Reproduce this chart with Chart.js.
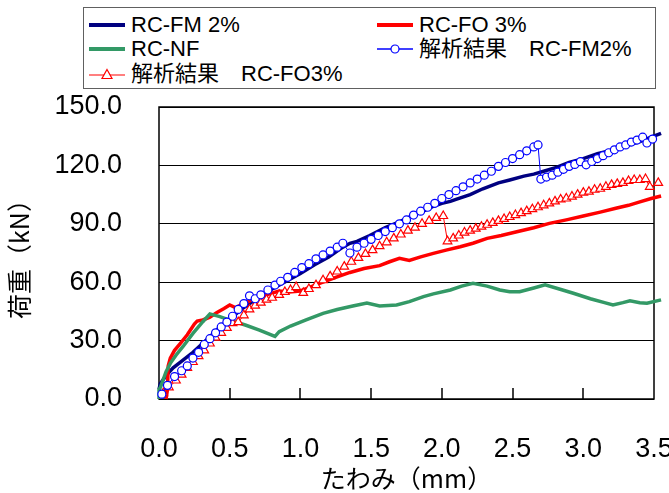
<!DOCTYPE html>
<html><head><meta charset="utf-8">
<script src="https://cdn.jsdelivr.net/npm/chart.js@4/dist/chart.umd.min.js"></script>
<style>
html,body{margin:0;padding:0;background:#fff;}
#wrap{position:relative;width:669px;height:493px;overflow:hidden;}
canvas{display:block;}
#legend{position:absolute;left:83px;top:7px;width:573px;height:82px;border:1px solid #606060;box-sizing:border-box;font-family:"Liberation Sans","Noto Sans CJK JP",sans-serif;font-size:22px;color:#000;background:#fff;}
.item{position:absolute;display:flex;align-items:center;white-space:nowrap;height:24px;line-height:24px;}
.item svg{margin-right:6px;flex:none;}
</style></head>
<body>
<div id="wrap">
<canvas id="c" width="669" height="493"></canvas>
<div id="legend">
  <div class="item" style="left:5px;top:5px"><svg width="36" height="10"><line x1="0" y1="5" x2="36" y2="5" stroke="#000080" stroke-width="4"/></svg>RC-FM 2%</div>
  <div class="item" style="left:293px;top:5px"><svg width="36" height="10"><line x1="0" y1="5" x2="36" y2="5" stroke="#FF0000" stroke-width="4"/></svg>RC-FO 3%</div>
  <div class="item" style="left:5px;top:29px"><svg width="36" height="10"><line x1="0" y1="5" x2="36" y2="5" stroke="#339966" stroke-width="4"/></svg>RC-NF</div>
  <div class="item" style="left:293px;top:29px"><svg width="36" height="12"><line x1="0" y1="6" x2="36" y2="6" stroke="#0000FF" stroke-width="1.5"/><circle cx="18" cy="6" r="4" fill="#fff" stroke="#0000FF" stroke-width="1.2"/></svg>解析結果　RC-FM2%</div>
  <div class="item" style="left:5px;top:54px"><svg width="36" height="12"><line x1="0" y1="7" x2="36" y2="7" stroke="#FF0000" stroke-width="1.2"/><polygon points="18,1.5 23,10.5 13,10.5" fill="#fff" stroke="#FF0000" stroke-width="1.2"/></svg>解析結果　RC-FO3%</div>
</div>
</div>
<script>
// tick values
const xTickValues = [0.0, 0.5, 1.0, 1.5, 2.0, 2.5, 3.0, 3.5];
const yTickValues = [0, 30, 60, 90, 120, 150];

// Measured RC-FM 2%
const fmX = [0.0,0.01,0.05,0.10,0.17,0.24,0.30,0.36,0.43,0.50,0.60,0.70,0.80,0.90,1.00,1.10,1.20,1.30,1.35,1.40,1.49,1.60,1.70,1.80,1.90,1.94,2.00,2.06,2.10,2.20,2.29,2.40,2.48,2.58,2.65,2.72,2.81,2.90,3.00,3.10,3.21,3.30,3.40,3.48,3.55];
const fmY = [5,8,12,16,20,24,28,32,37,41,47,52,56.5,60.5,64.5,69,73,78,80,81,84,88,91,94.5,97.5,99,100.5,101.5,102.5,105,108,111,112.5,114.5,115.5,117,119,121.5,123.5,126,128,130,132.2,134.5,136.5];

// Measured RC-FO 3%
const foX = [0.05,0.06,0.065,0.08,0.11,0.15,0.20,0.25,0.27,0.31,0.36,0.41,0.46,0.50,0.54,0.60,0.66,0.72,0.78,0.85,0.92,1.00,1.07,1.14,1.25,1.35,1.45,1.56,1.63,1.70,1.77,1.85,1.94,2.03,2.13,2.22,2.32,2.42,2.53,2.65,2.76,2.88,3.00,3.12,3.23,3.32,3.40,3.48,3.55];
const foY = [0,5,17,21,25,28.5,33,38.5,40,40.6,42,44.5,46.5,48.3,47,49,51,52,54,55.5,55,55.5,57.5,59.5,62.5,65,67,68.5,70.5,72.3,71.2,73,74.8,76.5,78.2,80,82.5,84,85.9,88,90.2,92,94,96,98,99.5,101.3,103,104.3];

// Measured RC-NF
const nfX = [0.0,0.0,0.01,0.05,0.08,0.12,0.17,0.24,0.31,0.36,0.43,0.50,0.61,0.71,0.82,0.85,0.93,1.04,1.16,1.26,1.37,1.47,1.56,1.68,1.77,1.87,1.94,2.06,2.14,2.22,2.32,2.41,2.48,2.55,2.65,2.73,2.83,2.93,3.05,3.15,3.21,3.28,3.33,3.40,3.45,3.55];
const nfY = [0,5,6,14,18.3,22.5,27,33.7,39.7,43.7,42.3,40.5,38,35.4,32.2,34.6,37.5,40.6,44,46,47.8,49.3,47.8,48.3,50,52.6,54,56,58,59.4,58,56,55.1,55.1,57,58.6,56.5,54.3,51.5,49.5,48.3,49.5,50.5,49.5,49.2,50.9];

// Analysis RC-FM2%
const anaFmX = [0.02,0.06,0.11,0.16,0.20,0.24,0.28,0.32,0.36,0.40,0.44,0.48,0.52,0.56,0.60,0.64,0.68,0.72,0.77,0.82,0.86,0.91,0.96,1.01,1.06,1.11,1.16,1.21,1.26,1.30,1.35,1.40,1.45,1.50,1.55,1.60,1.65,1.70,1.75,1.80,1.85,1.90,1.95,2.00,2.05,2.10,2.15,2.20,2.25,2.30,2.35,2.40,2.45,2.50,2.55,2.60,2.65,2.68,2.70,2.74,2.78,2.82,2.86,2.90,2.94,2.98,3.02,3.06,3.10,3.14,3.18,3.22,3.26,3.30,3.34,3.38,3.42,3.45,3.49];
const anaFmY = [2.5,7,11.5,14.5,17,21,24,28,31,34,37,39.5,42.5,46,49,53,51.5,53.5,56,58.5,60.5,62.5,65,67.5,69.5,72,74,76,78,80,75,78,80,82,84,86,88,90,92,94.5,96.5,98.5,100.5,103,105,107,109,111,113,115,117,119.5,121.5,123.5,125.5,127.5,129.5,130.5,113,114,115,116.5,118,119.5,120.5,121.9,120.3,122,123.5,125,126.5,128,129.5,130.5,132,133,134.5,131.5,133.5];

// Analysis RC-FO3%
const anaFoX = [0.03,0.07,0.12,0.16,0.20,0.24,0.28,0.32,0.36,0.40,0.44,0.48,0.52,0.56,0.60,0.64,0.68,0.72,0.76,0.80,0.85,0.89,0.93,0.97,1.02,1.06,1.11,1.16,1.21,1.26,1.31,1.36,1.41,1.46,1.51,1.56,1.61,1.66,1.71,1.76,1.81,1.86,1.91,1.96,2.01,2.04,2.08,2.12,2.16,2.20,2.24,2.28,2.32,2.36,2.40,2.44,2.48,2.52,2.56,2.60,2.64,2.68,2.72,2.76,2.80,2.84,2.88,2.92,2.96,3.00,3.04,3.08,3.12,3.16,3.20,3.24,3.28,3.32,3.36,3.40,3.44,3.47,3.53];
const anaFoY = [3,6,9.5,12.5,16,19,22,25,28.5,31.5,34,36.5,39,39.5,43,46,48,49.5,51,52,53.5,55,56,57.5,54.5,56.5,58.5,61,63,65.5,68,70.5,72.5,74.5,76.5,78.5,80.5,82.5,84.5,86.5,88,90,91.5,93,94,81,82.5,84,85.5,86.5,87.5,88.5,89.5,90.5,91.5,92.5,93.5,94.5,95.5,96.5,97.5,98.5,99.5,100.5,101.5,102.5,103,104,105,106,106.5,107.5,108,109,110,110.5,111,112,112.5,112.5,113,109,111];

const pts = (xs, ys) => xs.map((v, i) => ({x: v, y: ys[i]}));

const framePlugin = {
  id: 'frame',
  beforeDatasetsDraw(chart) {
    const ctx = chart.ctx, a = chart.chartArea, x = chart.scales.x;
    ctx.save();
    ctx.strokeStyle = '#000000';
    ctx.lineWidth = 1.5;
    ctx.strokeRect(a.left, a.top, a.right - a.left, a.bottom - a.top);
    ctx.beginPath();
    for (let i = 1; i < x.ticks.length - 1; i++) {
      const px = Math.round(x.getPixelForTick(i));
      ctx.moveTo(px, a.bottom);
      ctx.lineTo(px, a.bottom - 11);
    }
    ctx.stroke();
    ctx.restore();
  }
};

const tickFont = {family: '"Liberation Sans", Arial, sans-serif', size: 27};
const titleFont = {family: '"Noto Sans CJK JP", sans-serif', size: 25};

new Chart(document.getElementById('c'), {
  type: 'line',
  data: {
    datasets: [
      {label: '解析結果　RC-FM2%', data: pts(anaFmX, anaFmY), borderColor: '#0000FF', backgroundColor: '#FFFFFF', borderWidth: 1, pointStyle: 'circle', pointRadius: 4, pointBorderWidth: 1.2, pointBackgroundColor: '#FFFFFF', pointBorderColor: '#0000FF', order: 0, clip: false},
      {label: '解析結果　RC-FO3%', data: pts(anaFoX, anaFoY), borderColor: '#FF0000', backgroundColor: '#FFFFFF', borderWidth: 1, pointStyle: 'triangle', pointRadius: 5, pointBorderWidth: 1.2, pointBackgroundColor: '#FFFFFF', pointBorderColor: '#FF0000', order: 1, clip: false},
      {label: 'RC-FM 2%', data: pts(fmX, fmY), borderColor: '#000080', borderWidth: 3.5, pointRadius: 0, order: 4, clip: false},
      {label: 'RC-FO 3%', data: pts(foX, foY), borderColor: '#FF0000', borderWidth: 3.5, pointRadius: 0, order: 3, clip: false},
      {label: 'RC-NF', data: pts(nfX, nfY), borderColor: '#339966', borderWidth: 3.5, pointRadius: 0, order: 2, clip: false}
    ]
  },
  options: {
    responsive: false,
    animation: false,
    layout: {padding: {top: 107, right: 15, left: 0, bottom: 0}},
    plugins: {legend: {display: false}, tooltip: {enabled: false}},
    elements: {line: {tension: 0, fill: false}},
    scales: {
      x: {
        type: 'linear', min: 0, max: 3.5,
        afterBuildTicks: s => { s.ticks = xTickValues.map(v => ({value: v})); },
        afterFit: s => { s.height = 94; s.paddingLeft = 0; s.paddingRight = 0; },
        ticks: {font: tickFont, color: '#000', padding: 34, maxRotation: 0, callback: v => Number(v).toFixed(1)},
        grid: {display: false, drawTicks: false},
        border: {display: false},
        title: {display: true, text: 'たわみ（mm）', font: titleFont, color: '#000', padding: {top: 0, bottom: 0}}
      },
      y: {
        type: 'linear', min: 0, max: 150,
        afterBuildTicks: s => { s.ticks = yTickValues.map(v => ({value: v})); },
        afterFit: s => { s.width = 159; s.paddingTop = 0; s.paddingBottom = 0; },
        ticks: {font: tickFont, color: '#000', padding: 37, callback: v => Number(v).toFixed(1)},
        grid: {color: '#000', lineWidth: 1, drawTicks: false},
        border: {display: false},
        title: {display: true, text: '荷重（kN）', font: titleFont, color: '#000', padding: {top: 4, bottom: 0}}
      }
    }
  },
  plugins: [framePlugin]
});
</script>
</body></html>
